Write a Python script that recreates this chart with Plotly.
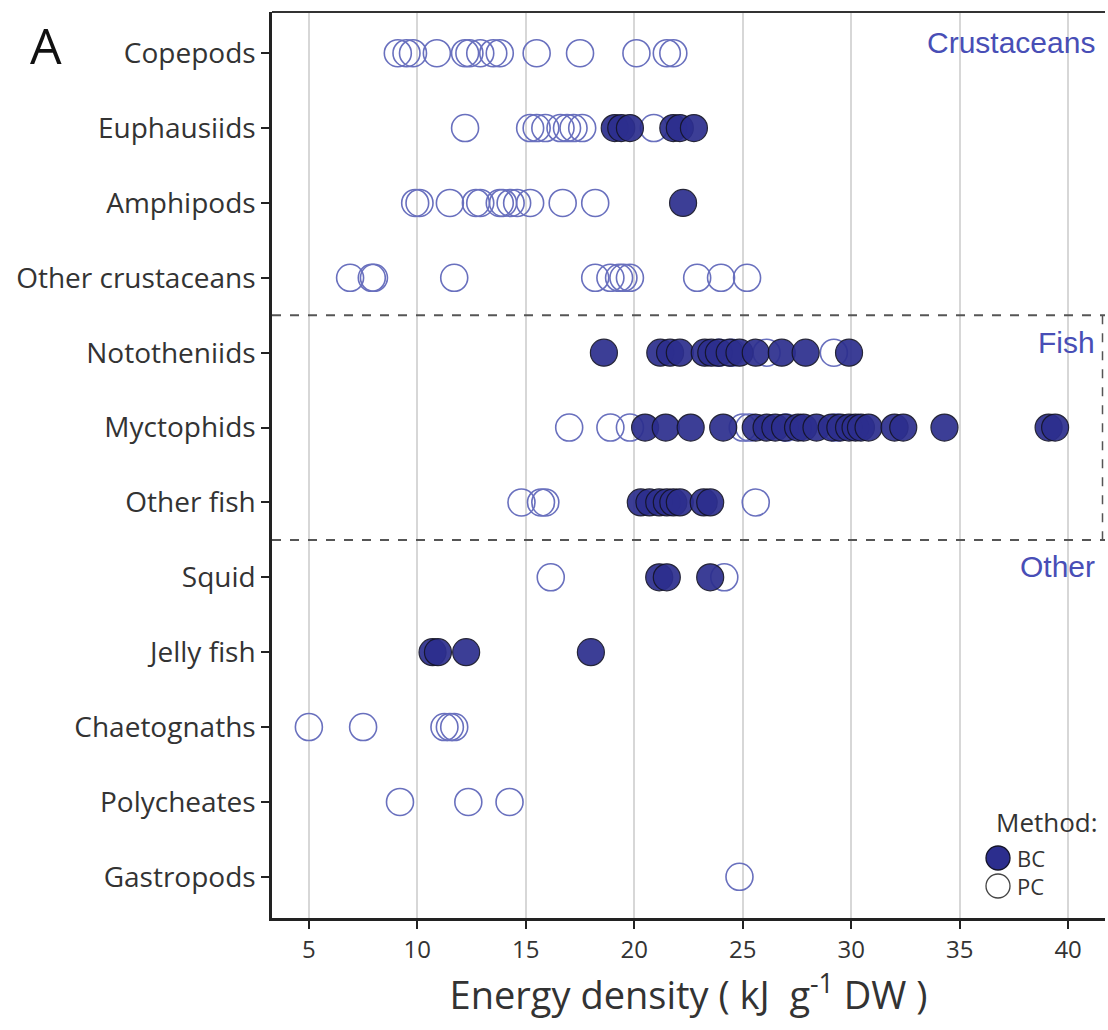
import plotly.graph_objects as go

categories = ["Copepods", "Euphausiids", "Amphipods", "Other crustaceans",
              "Nototheniids", "Myctophids", "Other fish", "Squid",
              "Jelly fish", "Chaetognaths", "Polycheates", "Gastropods"]

# PC (open) values per category
pc_values = {
    "Copepods": [9.1, 9.5, 9.8, 10.9, 12.2, 12.4, 12.9, 13.5, 13.8, 15.5, 17.5, 20.1, 21.5, 21.8],
    "Euphausiids": [12.2, 15.2, 15.5, 15.9, 16.6, 16.9, 17.2, 17.6, 20.9],
    "Amphipods": [9.9, 10.1, 11.5, 12.7, 12.9, 13.8, 13.95, 14.3, 14.6, 15.2, 16.7, 18.2],
    "Other crustaceans": [6.9, 7.9, 8.0, 11.7, 18.2, 18.9, 19.3, 19.5, 19.8, 22.9, 24.0, 25.2],
    "Nototheniids": [23.9, 24.5, 26.1, 29.2],
    "Myctophids": [17.0, 18.9, 19.8, 25.0, 25.3, 27.0, 29.3],
    "Other fish": [14.8, 15.7, 15.9, 25.6],
    "Squid": [16.15, 24.15],
    "Jelly fish": [],
    "Chaetognaths": [5.0, 7.5, 11.25, 11.5, 11.7],
    "Polycheates": [9.2, 12.35, 14.25],
    "Gastropods": [24.85],
}

# BC (filled) values per category
bc_values = {
    "Copepods": [],
    "Euphausiids": [19.1, 19.4, 19.8, 21.8, 22.1, 22.75],
    "Amphipods": [22.25],
    "Other crustaceans": [],
    "Nototheniids": [18.6, 21.2, 21.65, 22.1, 23.25, 23.55, 23.9, 24.4, 24.85, 25.6, 26.8, 27.9, 29.9],
    "Myctophids": [20.5, 21.45, 22.6, 24.1, 25.6, 26.1, 26.5, 26.95, 27.55, 27.8, 28.4, 29.1,
                   29.5, 29.9, 30.2, 30.45, 30.8, 32.0, 32.4, 34.3, 39.1, 39.4],
    "Other fish": [20.3, 20.7, 21.15, 21.5, 21.8, 22.1, 23.2, 23.5],
    "Squid": [21.15, 21.5, 23.5],
    "Jelly fish": [10.7, 10.95, 12.25, 18.0],
    "Chaetognaths": [],
    "Polycheates": [],
    "Gastropods": [],
}

x_ticks = [5, 10, 15, 20, 25, 30, 35, 40]
group_labels = ["Crustaceans", "Fish", "Other"]
group_label_rows = ["Copepods", "Nototheniids", "Squid"]
methods = ["BC", "PC"]

pc_x, pc_y, bc_x, bc_y = [], [], [], []
for c in categories:
    for v in pc_values[c]:
        pc_x.append(v); pc_y.append(c)
    for v in bc_values[c]:
        bc_x.append(v); bc_y.append(c)

BLUE_FILL = "rgb(44,46,142)"
PC_LINE = "rgb(105,112,190)"
FONT = "Open Sans, Lato, sans-serif"
TXT = "#333333"

W, H = 1108, 1030
L, R, T, B = 272, 3, 12, 112
PW, PH = W - L - R, H - T - B

fig = go.Figure()
fig.add_trace(go.Scatter(
    x=pc_x, y=pc_y, mode="markers", name="PC", showlegend=False, hoverinfo="x+y",
    marker=dict(size=27, color="rgba(0,0,0,0)", line=dict(color=PC_LINE, width=1.6)),
))
fig.add_trace(go.Scatter(
    x=bc_x, y=bc_y, mode="markers", name="BC", showlegend=False, hoverinfo="x+y",
    marker=dict(size=27, color=BLUE_FILL, opacity=0.92, line=dict(color="rgb(20,20,40)", width=1.2)),
))

# dashed group separators
for yv in [3.5, 6.5]:
    fig.add_shape(type="line", xref="paper", x0=0, x1=1, yref="y", y0=yv, y1=yv,
                  line=dict(color="#555555", width=2, dash="dash"))
fig.add_shape(type="line", xref="paper", x0=0.997, x1=0.997, yref="y", y0=3.5, y1=6.5,
              line=dict(color="#555555", width=1.5, dash="dash"))

for lab, row in zip(group_labels, group_label_rows):
    fig.add_annotation(text=lab, xref="paper", x=0.99, xanchor="right",
                       yref="y", y=categories.index(row) - 0.14, yanchor="middle",
                       showarrow=False, font=dict(family="Liberation Sans, Arial, sans-serif", size=30, color="rgb(72,78,182)"))

def px2paper(px, py):
    return (px - L) / PW, (H - B - py) / PH

ax_, ay_ = px2paper(28, 45)
fig.add_annotation(text="A", xref="paper", yref="paper", x=ax_, y=ay_,
                   xanchor="left", yanchor="middle", showarrow=False,
                   font=dict(family=FONT, size=50, color="#111111"))

# manual legend
mx, my = px2paper(1100, 822)
fig.add_annotation(text="Method:", xref="paper", yref="paper", x=mx, y=my,
                   xanchor="right", yanchor="middle", showarrow=False,
                   font=dict(family=FONT, size=26, color=TXT))
leg_styles = {"BC": dict(fill=BLUE_FILL, line="rgb(20,20,40)"), "PC": dict(fill="white", line="#444444")}
for i, m in enumerate(methods):
    cy = 858 + i * 28
    cx = 998
    r = 12
    x0, y0 = px2paper(cx - r, cy + r)
    x1, y1 = px2paper(cx + r, cy - r)
    fig.add_shape(type="circle", xref="paper", yref="paper", x0=x0, y0=y0, x1=x1, y1=y1,
                  fillcolor=leg_styles[m]["fill"], line=dict(color=leg_styles[m]["line"], width=1.3))
    tx, ty = px2paper(1015, cy)
    fig.add_annotation(text=m, xref="paper", yref="paper", x=tx, y=ty,
                       xanchor="left", yanchor="middle", showarrow=False,
                       font=dict(family=FONT, size=22, color=TXT))

fig.update_layout(
    width=W, height=H,
    margin=dict(l=L, r=R, t=T, b=B),
    plot_bgcolor="white", paper_bgcolor="white",
    font=dict(family=FONT, color=TXT),
    showlegend=False,
)
fig.update_xaxes(
    range=[3.3, 41.7], tickvals=x_ticks, ticktext=[str(t) for t in x_ticks],
    showgrid=True, gridcolor="rgb(215,215,215)", gridwidth=1.5,
    showline=True, linecolor="#222222", linewidth=2.5, mirror=False,
    ticks="outside", ticklen=8, tickwidth=1.5, tickcolor="#222222",
    tickfont=dict(size=24, color=TXT, family=FONT),
    title=dict(text="Energy density ( kJ  g<sup>-1</sup> DW )", font=dict(size=38, color=TXT, family=FONT), standoff=12),
    zeroline=False,
)
fig.update_yaxes(
    type="category", categoryorder="array", categoryarray=categories,
    range=[11.55, -0.55], showgrid=False,
    showline=True, linecolor="#222222", linewidth=2.5,
    ticks="outside", ticklen=8, tickwidth=1.5, tickcolor="#222222",
    tickfont=dict(size=28, color=TXT, family=FONT), zeroline=False,
)
# top frame line
fig.add_shape(type="line", xref="paper", yref="paper", x0=0, x1=1, y0=1, y1=1,
              line=dict(color="#333333", width=2))

fig.write_html("out.html", config={"displayModeBar": False},
               post_script="document.body.style.margin='0';document.body.style.overflow='hidden';")
